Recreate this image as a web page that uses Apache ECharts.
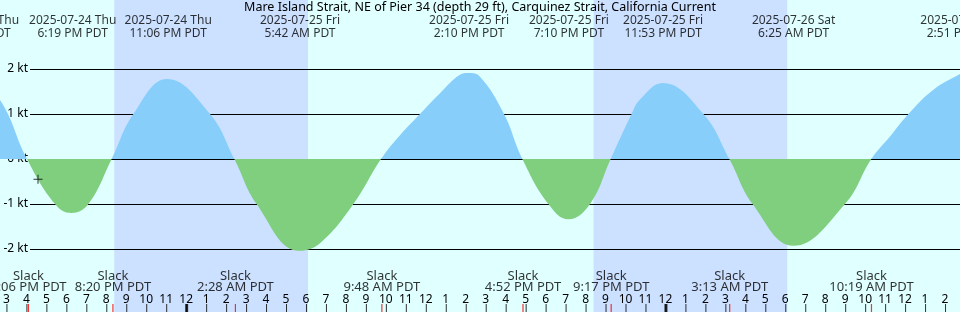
<!DOCTYPE html>
<html>
<head>
<meta charset="utf-8">
<script src="https://cdn.jsdelivr.net/npm/echarts@6/dist/echarts.min.js"></script>
<style>
html,body{margin:0;padding:0;background:#E0FFFF;}
#c{width:960px;height:312px;}
</style>
</head>
<body>
<div id="c"></div>
<script>
// ---- Data (hours since 2025-07-24 00:00 PDT) ----
const titleText = 'Mare Island Strait, NE of Pier 34 (depth 29 ft), Carquinez Strait, California Current';
const curveHours = [13.45, 14.75, 16.1, 17.5, 18.317, 19.17, 20.333, 21.42, 23.1, 25.25, 26.467, 27.58, 29.7, 30.75, 32.42, 33.8, 34.75, 35.75, 36.75, 37.75, 38.167, 38.75, 39.95, 40.867, 42.17, 43.167, 44.25, 45.283, 46.33, 46.75, 47.883, 49.92, 51.217, 52.38, 54.417, 57.0, 58.317, 59.25, 60.17, 61.42, 62.75, 62.85];
const curveKnots = [1.8, 1.31, 0, -1, -1.2, -1, 0, 1, 1.78, 1, 0, -1, -2.04, -1.87, -1, 0, 0.53, 1.0, 1.46, 1.87, 1.91, 1.83, 1, 0, -1, -1.34, -1, 0, 1, 1.32, 1.69, 1, 0, -1, -1.93, -1, 0, 0.5, 1, 1.54, 1.89, 1.9];

const extremeHours = [13.45, 18.317, 23.1, 29.7, 38.167, 43.167, 47.883, 54.417, 62.85];
const extremeDates = ['2025-07-24 Thu', '2025-07-24 Thu', '2025-07-24 Thu', '2025-07-25 Fri', '2025-07-25 Fri', '2025-07-25 Fri', '2025-07-25 Fri', '2025-07-26 Sat', '2025-07-26 Sat'];
const extremeTimes = ['1:27 PM PDT', '6:19 PM PDT', '11:06 PM PDT', '5:42 AM PDT', '2:10 PM PDT', '7:10 PM PDT', '11:53 PM PDT', '6:25 AM PDT', '2:51 PM PDT'];

const slackHours = [16.1, 20.333, 26.467, 33.8, 40.867, 45.283, 51.217, 58.317];
const slackTimes = ['4:06 PM PDT', '8:20 PM PDT', '2:28 AM PDT', '9:48 AM PDT', '4:52 PM PDT', '9:17 PM PDT', '3:13 AM PDT', '10:19 AM PDT'];

const nightStarts = [20.4, 44.4];
const nightEnds = [30.1, 54.1];

const nowHour = [16.65];
const nowKnots = [-0.45];

const yTicks = [-2, -1, 0, 1, 2];

// ---- Styles / layout ----
const FONT = 'Noto Sans';
const DAY = '#E0FFFF', NIGHT = '#CCE0FF', FLOOD = '#87CEFA', EBB = '#7FCF7F';
const XMIN = 14.75, XMAX = 62.75;
const MAIN_TOP = 24, MAIN_H = 270, MAIN_MIN = -3, MAIN_MAX = 3;
const zeroY = MAIN_TOP + MAIN_H * MAIN_MAX / (MAIN_MAX - MAIN_MIN);
const H = 312;
const TICK_Y = 308;

const hourTicks = [];
for (let h = Math.ceil(XMIN); h <= XMAX; h++) hourTicks.push(h);
const midnights = hourTicks.filter(h => h % 24 === 0);
const hourLabel = v => { const h = ((v % 12) + 12) % 12; return h === 0 ? '12' : String(h); };

const chart = echarts.init(document.getElementById('c'), null, {renderer: 'canvas'});
const transparentItem = {color: 'rgba(0,0,0,0)'};
const zOff = zeroY / H;

chart.setOption({
  animation: false,
  backgroundColor: DAY,
  textStyle: {fontFamily: FONT},
  title: {
    text: titleText, left: 'center', top: 0.5, padding: 0,
    textStyle: {fontFamily: FONT, fontSize: 12.5, fontWeight: 'normal', color: '#000'}
  },
  grid: [
    {left: 0, right: 0, top: 0, bottom: 0},
    {left: 30, right: 0, top: 69, height: 180},
    {left: 0, right: 0, top: MAIN_TOP, height: MAIN_H}
  ],
  xAxis: [
    {
      type: 'value', gridIndex: 0, min: XMIN, max: XMAX, position: 'bottom',
      axisLine: {show: false},
      axisTick: {show: false},
      axisLabel: {show: true, inside: true, margin: 6.5, customValues: hourTicks, formatter: hourLabel, color: '#000', fontSize: 12, fontFamily: FONT},
      splitLine: {show: false}
    },
    {type: 'value', gridIndex: 1, min: 0, max: 1, show: false},
    {type: 'value', gridIndex: 2, min: XMIN, max: XMAX, show: false}
  ],
  yAxis: [
    {type: 'value', gridIndex: 0, min: 0, max: H, inverse: true, show: false},
    {
      type: 'value', gridIndex: 1, min: yTicks[0], max: yTicks[yTicks.length - 1], interval: 1,
      axisLine: {show: false}, axisTick: {show: false},
      axisLabel: {margin: 2, color: '#000', fontSize: 12, fontFamily: FONT, formatter: v => v + ' kt'},
      splitLine: {show: true, lineStyle: {color: '#000', width: 1}}
    },
    {type: 'value', gridIndex: 2, min: MAIN_MIN, max: MAIN_MAX, show: false}
  ],
  series: [
    {
      type: 'custom', xAxisIndex: 0, yAxisIndex: 0, z: -5, silent: true,
      data: nightStarts.map((s, i) => [s, nightEnds[i]]),
      encode: {x: [0, 1]},
      renderItem: (params, api) => {
        const a = api.coord([api.value(0), 0]);
        const b = api.coord([api.value(1), H]);
        return {type: 'rect', shape: {x: a[0], y: a[1], width: b[0] - a[0], height: b[1] - a[1]}, style: {fill: NIGHT}};
      }
    },
    {
      type: 'line', xAxisIndex: 2, yAxisIndex: 2, z: 2, silent: true,
      data: curveHours.map((h, i) => [h, curveKnots[i]]),
      smooth: 0.42, symbol: 'none', showSymbol: false,
      lineStyle: {width: 0},
      areaStyle: {
        opacity: 1,
        color: {
          type: 'linear', x: 0, y: 0, x2: 0, y2: H, global: true,
          colorStops: [
            {offset: 0, color: FLOOD}, {offset: zOff, color: FLOOD},
            {offset: zOff, color: EBB}, {offset: 1, color: EBB}
          ]
        }
      }
    },
    {
      type: 'scatter', xAxisIndex: 0, yAxisIndex: 0, clip: false, z: 5, silent: true,
      symbolSize: 1, itemStyle: transparentItem,
      data: extremeHours.map((h, i) => ({value: [h, 27], name: extremeDates[i] + '\n' + extremeTimes[i]})),
      label: {show: true, position: 'inside', formatter: p => p.name, color: '#000', fontSize: 12, fontFamily: FONT, lineHeight: 13.3, align: 'center'}
    },
    {
      type: 'scatter', xAxisIndex: 0, yAxisIndex: 0, clip: false, z: 5, silent: true,
      symbolSize: 1, itemStyle: transparentItem,
      data: slackHours.map((h, i) => ({value: [h, 281.7], name: 'Slack\n' + slackTimes[i]})),
      label: {show: true, position: 'inside', formatter: p => p.name, color: '#000', fontSize: 13, fontFamily: FONT, lineHeight: 11.5, align: 'center'}
    },
    {
      type: 'scatter', xAxisIndex: 0, yAxisIndex: 0, z: 6, silent: true,
      symbol: 'rect', symbolSize: [1, 8], symbolOffset: [0.5, 0], itemStyle: {color: '#000'},
      data: hourTicks.map(h => [h, TICK_Y])
    },
    {
      type: 'scatter', xAxisIndex: 0, yAxisIndex: 0, z: 7, silent: true,
      symbol: 'rect', symbolSize: [1.2, 8], itemStyle: {color: '#FF0000'},
      data: slackHours.map(h => [h, TICK_Y])
    },
    {
      type: 'scatter', xAxisIndex: 0, yAxisIndex: 0, z: 7, silent: true,
      symbol: 'rect', symbolSize: [3, 8], symbolOffset: [0.5, 0], itemStyle: {color: '#000'},
      data: midnights.map(h => [h, TICK_Y])
    },
    {
      type: 'scatter', xAxisIndex: 2, yAxisIndex: 2, z: 8, silent: true,
      symbol: 'path://M0,4L9,4L9,5L0,5Z M4,0L5,0L5,9L4,9Z', symbolSize: [9, 9], itemStyle: {color: '#000'},
      data: nowHour.map((h, i) => [h, nowKnots[i]])
    }
  ]
});
</script>
</body>
</html>
